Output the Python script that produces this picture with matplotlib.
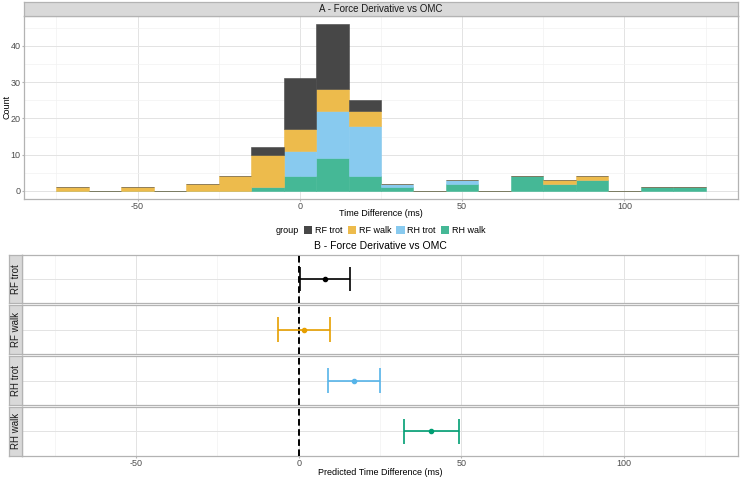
import numpy as np
import matplotlib.pyplot as plt
from matplotlib.patches import Patch

plt.rcParams['font.family'] = ['Liberation Sans', 'DejaVu Sans']

# histogram counts per 10 ms bin (centres)
bin_centers = [-70, -60, -50, -40, -30, -20, -10, 0, 10, 20, 30, 40, 50, 60, 70, 80, 90, 100, 110, 120]
rf_trot = [0, 0, 0, 0, 0, 0, 2, 14, 18, 3, 0, 0, 0, 0, 0, 0, 0, 0, 0, 0]
rf_walk = [1, 0, 1, 0, 2, 4, 9, 6, 6, 4, 0, 0, 0, 0, 0, 1, 1, 0, 0, 0]
rh_trot = [0, 0, 0, 0, 0, 0, 0, 7, 13, 14, 1, 0, 1, 0, 0, 0, 0, 0, 0, 0]
rh_walk = [0, 0, 0, 0, 0, 0, 1, 4, 9, 4, 1, 0, 2, 0, 4, 2, 3, 0, 1, 1]

groups = ['RF trot', 'RF walk', 'RH trot', 'RH walk']
counts = [rf_trot, rf_walk, rh_trot, rh_walk]

# model estimates with intervals
est = [8.0, 1.5, 16.9, 40.6]
lower = [0.3, -6.5, 9.0, 32.3]
upper = [15.7, 9.5, 24.9, 49.1]

fill_cols = ['#474747', '#EDBB4C', '#88CAEF', '#45B896']
line_cols = ['#000000', '#E69F00', '#56B4E9', '#009E73']

border = '#B3B3B3'
strip_fill = '#D9D9D9'
tick_col = '#4D4D4D'
fs_tick = 6.5
fs_axis = 6.5
fs_strip = 7

W, H = 740, 479
fig = plt.figure(figsize=(W / 100, H / 100), dpi=100)


def box(l, t, r, b):
    return [l / W, 1 - b / H, (r - l) / W, (b - t) / H]


def ftext(x, y, s, **kw):
    fig.text(x / W, 1 - y / H, s, ha='center', va='center', **kw)


def style(ax):
    for s in ax.spines.values():
        s.set_color(border)
        s.set_linewidth(0.9)
    ax.set_facecolor('white')
    ax.grid(True, which='major', color='#E3E3E3', lw=0.7, zorder=0)
    ax.grid(True, which='minor', color='#F1F1F1', lw=0.5, zorder=0)
    ax.set_axisbelow(True)
    ax.tick_params(which='major', length=1.5, color=border, labelcolor=tick_col,
                   labelsize=fs_tick, pad=0.8)
    ax.tick_params(which='minor', length=0)


def strip(rect, text, rot=0):
    s = fig.add_axes(rect)
    s.set_facecolor(strip_fill)
    for sp in s.spines.values():
        sp.set_color(border)
        sp.set_linewidth(0.9)
    s.set_xticks([])
    s.set_yticks([])
    s.text(0.5, 0.5, text, ha='center', va='center', rotation=rot,
           fontsize=fs_strip, color='#1A1A1A', transform=s.transAxes)


xlim = (-85, 135)
xmaj = [-50, 0, 50, 100]
xmin = [-75, -25, 25, 75, 125]

# ---- panel A: stacked histogram ----
ax = fig.add_axes(box(24, 15.7, 738, 199.3))
style(ax)
bottom = np.zeros(len(bin_centers))
for i in [3, 2, 1, 0]:
    v = np.array(counts[i])
    ax.bar(bin_centers, v, width=10, bottom=bottom, color=fill_cols[i],
           edgecolor=fill_cols[i], linewidth=0.4, zorder=2)
    bottom += v
ax.set_xlim(xlim)
ax.set_ylim(-2.3, 48.3)
ax.set_xticks(xmaj)
ax.set_xticks(xmin, minor=True)
ax.set_yticks([0, 10, 20, 30, 40])
ax.set_yticks([5, 15, 25, 35, 45], minor=True)
ax.set_xticklabels(['-50', '0', '50', '100'])
ftext(381, 214, 'Time Difference (ms)', fontsize=fs_axis, color='black')
ftext(6.5, 107, 'Count', fontsize=fs_axis, color='black', rotation=90)
strip(box(24, 2.3, 738, 15.7), 'A - Force Derivative vs OMC')

# legend
handles = [Patch(facecolor='none', edgecolor='none')] + \
          [Patch(facecolor=c, edgecolor='none') for c in fill_cols]
fig.legend(handles, ['group'] + groups, loc='center', bbox_to_anchor=(375 / W, 1 - 230.5 / H),
           ncol=5, frameon=False, fontsize=fs_tick, handlelength=0.9, handleheight=0.9,
           handletextpad=0.3, columnspacing=0.6)

# ---- panel B: estimates per group ----
ftext(380, 246, 'B - Force Derivative vs OMC', fontsize=fs_strip + 0.5, color='black')

rows = [(254.7, 303), (305, 354), (356, 405), (406.7, 456)]
for k, (t, b) in enumerate(rows):
    a = fig.add_axes(box(22.3, t, 738, b))
    style(a)
    a.set_xlim(xlim)
    a.set_ylim(0.4, 1.6)
    a.set_xticks(xmaj)
    a.set_xticks(xmin, minor=True)
    a.set_yticks([1])
    a.tick_params(axis='y', length=0, labelleft=False)
    a.axvline(0, color='black', lw=1.4, ls=(0, (3.4, 1.8)), zorder=3)
    c = line_cols[k]
    a.hlines(1, lower[k], upper[k], color=c, lw=1.2, zorder=4)
    a.vlines([lower[k], upper[k]], 0.7, 1.3, color=c, lw=1.2, zorder=4)
    a.plot([est[k]], [1], 'o', color=c, ms=3, zorder=5)
    if k < 3:
        a.tick_params(axis='x', length=0, labelbottom=False)
    else:
        a.set_xticklabels(['-50', '0', '50', '100'])
    strip(box(9, t, 22.3, b), groups[k], rot=90)

ftext(380, 472.5, 'Predicted Time Difference (ms)', fontsize=fs_axis, color='black')

fig.savefig('out.png', dpi=100)
